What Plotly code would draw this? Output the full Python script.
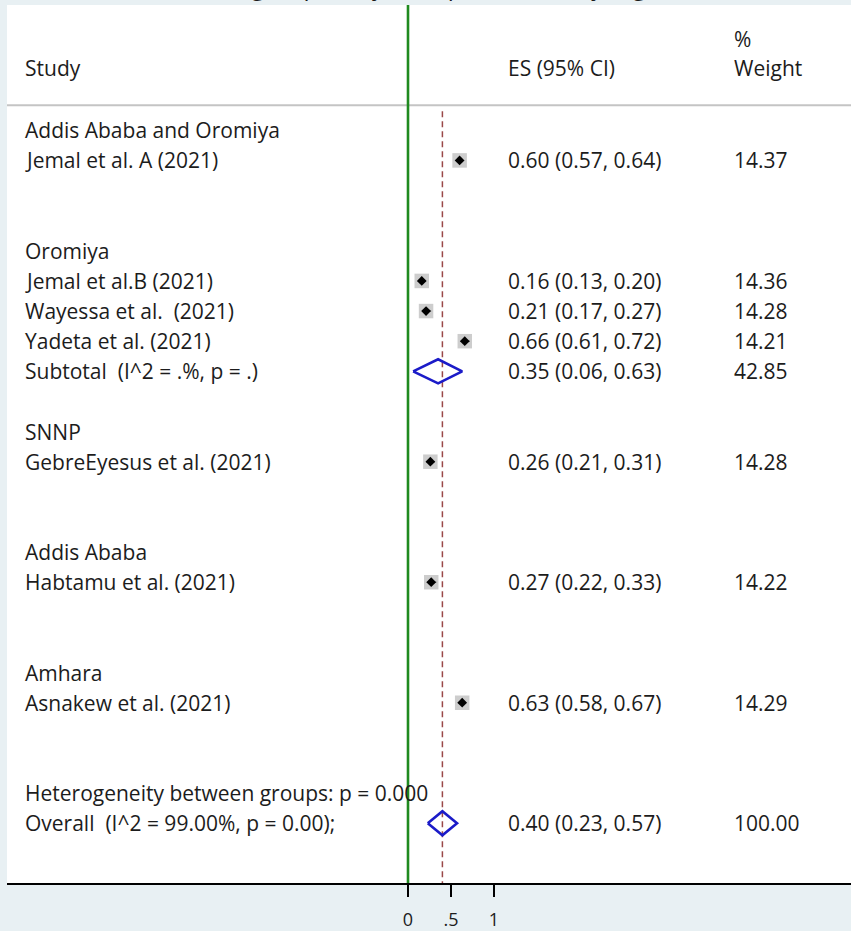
import plotly.graph_objects as go

# ---------------- data ----------------
groups = ["Addis Ababa and Oromiya", "Oromiya", "SNNP", "Addis Ababa", "Amhara"]
studies = [
    "Jemal et al. A (2021)",
    "Jemal et al.B (2021)",
    "Wayessa et al.  (2021)",
    "Yadeta et al. (2021)",
    "GebreEyesus et al. (2021)",
    "Habtamu et al. (2021)",
    "Asnakew et al. (2021)",
]
study_group = [0, 1, 1, 1, 2, 3, 4]
es = [0.60, 0.16, 0.21, 0.66, 0.26, 0.27, 0.63]
ci_lo = [0.57, 0.13, 0.17, 0.61, 0.21, 0.22, 0.58]
ci_hi = [0.64, 0.20, 0.27, 0.72, 0.31, 0.33, 0.67]
weights = [14.37, 14.36, 14.28, 14.21, 14.28, 14.22, 14.29]

subtotal_labels = {1: "Subtotal  (I^2 = .%, p = .)"}
subtotal_es = {1: 0.35}
subtotal_lo = {1: 0.06}
subtotal_hi = {1: 0.63}
subtotal_w = {1: 42.85}

het_label = "Heterogeneity between groups: p = 0.000"
overall_label = "Overall  (I^2 = 99.00%, p = 0.00);"
overall_es = 0.40
overall_lo = 0.23
overall_hi = 0.57
overall_w = 100.00

title_text = "Subgroup analysis of prevalence by region"
header_study = "Study"
header_es = "ES (95% CI)"
header_w1 = "%"
header_w2 = "Weight"
tick_vals = [0, 0.5, 1]
tick_text = ["0", ".5", "1"]

# ---------------- layout of rows ----------------
def nb(s):
    return s.replace("  ", "\u00a0 ")

def fmt_ci(e, l, h):
    return f"{e:.2f} ({l:.2f}, {h:.2f})"

text_rows = []      # (row, study text, es text, weight text)
study_rows = []
sub_rows, sub_e, sub_l, sub_h = [], [], [], []
k = 0
for g, name in enumerate(groups):
    text_rows.append((k, name, "", ""))
    k += 1
    idx = [i for i in range(len(studies)) if study_group[i] == g]
    for i in idx:
        study_rows.append(k)
        text_rows.append((k, studies[i], fmt_ci(es[i], ci_lo[i], ci_hi[i]), f"{weights[i]:.2f}"))
        k += 1
    if g in subtotal_labels:
        text_rows.append((k, subtotal_labels[g],
                          fmt_ci(subtotal_es[g], subtotal_lo[g], subtotal_hi[g]),
                          f"{subtotal_w[g]:.2f}"))
        sub_rows.append(k)
        sub_e.append(subtotal_es[g]); sub_l.append(subtotal_lo[g]); sub_h.append(subtotal_hi[g])
    k += 1  # subtotal row (blank for single-study groups)
    k += 1  # spacer
het_row = k
overall_row = k + 1
text_rows.append((het_row, het_label, "", ""))
text_rows.append((overall_row, overall_label,
                  fmt_ci(overall_es, overall_lo, overall_hi), f"{overall_w:.2f}"))

# ---------------- figure ----------------
FONT = "Open Sans, Noto Sans, sans-serif"
TXT = "#1c1c1c"
BG = "#e8f0f3"
W, H = 851, 931
ML, MR, MT, MB = 7, 0, 5, 43
COL_STUDY, COL_ES, COL_W = 0.0185, 0.5915, 0.8595
DIAMOND_H = 0.40
FS = 21

fig = go.Figure()

# weight boxes with CI lines underneath
fig.add_trace(go.Scatter(
    x=es, y=study_rows, mode="markers",
    marker=dict(symbol="square", size=[14.5 * (w / 14.3) ** 0.5 for w in weights],
                color="#b8b8b8", line=dict(width=0)),
    error_x=dict(type="data", symmetric=False,
                 array=[h - e for e, h in zip(es, ci_hi)],
                 arrayminus=[e - l for e, l in zip(es, ci_lo)],
                 thickness=1.5, width=0, color="black"),
    hoverinfo="skip", showlegend=False))
# point estimates
fig.add_trace(go.Scatter(
    x=es, y=study_rows, mode="markers",
    marker=dict(symbol="diamond", size=7.5, color="black", line=dict(width=0)),
    hoverinfo="skip", showlegend=False))

# pooled diamonds
def diamond(e, l, h, r):
    return [l, e, h, e, l], [r, r - DIAMOND_H, r, r + DIAMOND_H, r]

for e, l, h, r in zip(sub_e + [overall_es], sub_l + [overall_lo],
                      sub_h + [overall_hi], sub_rows + [overall_row]):
    dx, dy = diamond(e, l, h, r)
    fig.add_trace(go.Scatter(x=dx, y=dy, mode="lines",
                             line=dict(color="#1b1bc8", width=2.6),
                             hoverinfo="skip", showlegend=False))

# header rows
sep_row = -0.83
annos = []
def add_text(xp, y, s, size=FS):
    annos.append(dict(x=xp, xref="paper", y=y, yref="y", text=nb(s),
                      xanchor="left", yanchor="middle", showarrow=False,
                      font=dict(family=FONT, size=size, color=TXT)))

add_text(COL_W, -3.04, header_w1)
add_text(COL_STUDY, -2.07, header_study)
add_text(COL_ES, -2.07, header_es)
add_text(COL_W, -2.07, header_w2)
for r, s, e_txt, w_txt in text_rows:
    add_text(COL_STUDY, r, s)
    if e_txt:
        add_text(COL_ES, r, e_txt)
    if w_txt:
        add_text(COL_W, r, w_txt)

# title (cut off at the top of the image, as in the reference)
annos.append(dict(x=0.519, xref="paper", y=1, yref="paper", yanchor="bottom",
                  xanchor="center", yshift=1, showarrow=False, text=title_text,
                  font=dict(family=FONT, size=24, color=TXT)))

shapes = [
    # separator under header
    dict(type="line", xref="paper", x0=0, x1=1, yref="y", y0=sep_row, y1=sep_row,
         line=dict(color="#c4c4c4", width=2), layer="below"),
    # null line
    dict(type="line", xref="x", x0=0, x1=0, yref="paper", y0=0, y1=1,
         line=dict(color="#1f8a1f", width=2.6), layer="above"),
    # overall effect line
    dict(type="line", xref="x", x0=overall_es, x1=overall_es, yref="y",
         y0=sep_row + 0.2, y1=overall_row + 3,
         line=dict(color="#9a4848", width=1.5, dash="6px,4px"), layer="below"),
]

px_per_unit = 86.0
x0_px = 408 - ML
plot_w = W - ML - MR
x_left = -x0_px / px_per_unit
x_right = (plot_w - x0_px) / px_per_unit

row0_px = 131 - MT
row_h = 30.3
plot_h = H - MT - MB
y_top = -row0_px / row_h
y_bot = (plot_h - row0_px) / row_h

fig.update_layout(
    width=W, height=H,
    margin=dict(l=ML, r=MR, t=MT, b=MB, pad=0),
    paper_bgcolor=BG, plot_bgcolor="white",
    showlegend=False,
    annotations=annos, shapes=shapes,
    xaxis=dict(range=[x_left, x_right], showgrid=False, zeroline=False,
               showline=True, linecolor="black", linewidth=2,
               ticks="outside", ticklen=12, tickwidth=2, tickcolor="black",
               tickvals=tick_vals, ticktext=tick_text, ticklabelstandoff=7,
               tickfont=dict(family=FONT, size=18, color=TXT), fixedrange=True),
    yaxis=dict(range=[y_bot, y_top], visible=False, fixedrange=True),
)

fig.write_html(
    "out.html",
    config={"displayModeBar": False},
    post_script="document.body.style.margin='0px';"
                "document.body.style.background='" + BG + "';"
                "document.body.style.overflow='hidden';",
)
